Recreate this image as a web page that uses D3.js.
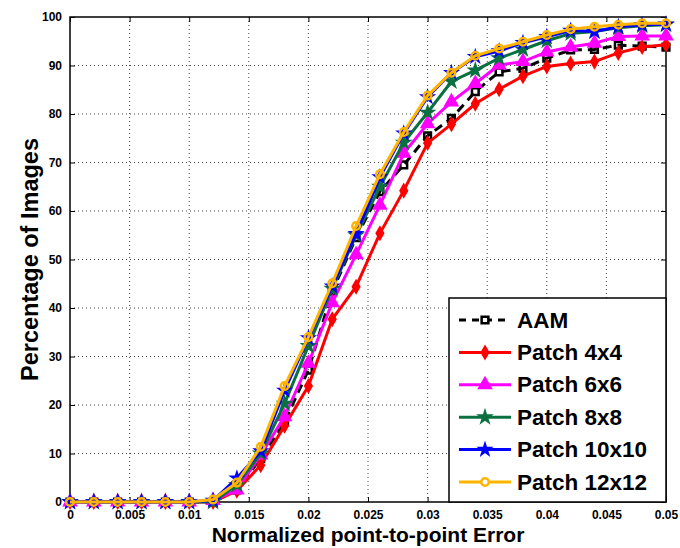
<!DOCTYPE html>
<html lang="en">
<head>
<meta charset="UTF-8">
<title>Normalized point-to-point error</title>
<script src="https://d3js.org/d3.v7.min.js"></script>
<style>
    body { margin: 0; background: #fff; }
    svg { font-family: 'Liberation Sans', Arial, sans-serif; }
    .tick text { font-weight: bold; font-size: 12px; }
    .grid line { stroke: #444; stroke-dasharray: 1,3; }
</style>
</head>
<body>
<script>
// error thresholds (0 .. 0.05, step 0.002)
const errors = [0, 0.002, 0.004, 0.006, 0.008, 0.01, 0.012, 0.014, 0.016, 0.018,
    0.02, 0.022, 0.024, 0.026, 0.028, 0.03, 0.032, 0.034, 0.036, 0.038,
    0.04, 0.042, 0.044, 0.046, 0.048, 0.05];

const aam = [0, 0, 0, 0, 0, 0, 0, 2.5, 9, 16.5, 27.2, 43.4, 54.5, 64, 69.5, 75.5,
    79.1, 84.6, 88.7, 89.4, 91.5, 93.2, 93.3, 94.2, 94, 93.8];
const patch4 = [0, 0, 0, 0, 0, 0, 0, 2.3, 7.6, 15.7, 23.9, 37.7, 44.4, 55.4, 64.2, 74,
    77.9, 82.1, 85.1, 87.8, 89.8, 90.4, 90.8, 92.6, 93.8, 94.3];
const patch6 = [0, 0, 0, 0, 0, 0, 0.3, 2.5, 9.7, 17.6, 28.6, 41.1, 51, 61.2, 71.9, 78,
    82.5, 86.3, 90.1, 90.8, 92.8, 93.8, 94.6, 96, 96.1, 96.1];
const patch8 = [0, 0, 0, 0, 0, 0, 0, 3.5, 10, 20.3, 32.2, 44, 55, 65, 74.1, 80.3,
    86.7, 89, 91.5, 93.3, 95.1, 96.6, 97, 97.8, 98.2, 98.4];
const patch10 = [0, 0, 0, 0, 0, 0, 0.3, 4.9, 10.5, 23, 33.8, 44.5, 55.3, 67, 76, 83.5,
    88.5, 91.8, 93, 94.7, 95.9, 97.2, 97, 98, 98.4, 98.5];
const patch12 = [0, 0, 0, 0, 0, 0, 0.5, 4, 11.4, 23.9, 34, 45.1, 56.9, 67.6, 76.3, 83.8,
    88.5, 92, 93.5, 94.9, 96.3, 97.5, 98, 98.4, 98.7, 98.7];

const xTicks = [0, 0.005, 0.01, 0.015, 0.02, 0.025, 0.03, 0.035, 0.04, 0.045, 0.05];
const yTicks = [0, 10, 20, 30, 40, 50, 60, 70, 80, 90, 100];

const series = [
    { name: "AAM", values: aam, color: "#000", dash: "9,6", symbol: d3.symbolSquare, size: 45, fill: "none" },
    { name: "Patch 4x4", values: patch4, color: "#ff0000", symbol: d3.symbolDiamond, size: 35, fill: "#ff0000" },
    { name: "Patch 6x6", values: patch6, color: "#ff00ff", symbol: d3.symbolTriangle, size: 55, fill: "#ff00ff" },
    { name: "Patch 8x8", values: patch8, color: "#0b7040", symbol: d3.symbolStar, size: 32, fill: "#0b7040" },
    { name: "Patch 10x10", values: patch10, color: "#0000ff", symbol: d3.symbolStar, size: 28, fill: "#0000ff" },
    { name: "Patch 12x12", values: patch12, color: "#ffb400", symbol: d3.symbolCircle, size: 45, fill: "none" }
];

const W = 680, H = 548;
const pLeft = 70, pRight = 666, pTop = 17, pBottom = 502;

const x = d3.scaleLinear().domain([0, 0.05]).range([pLeft, pRight]);
const y = d3.scaleLinear().domain([0, 100]).range([pBottom, pTop]);

const svg = d3.select("body").append("svg")
    .attr("width", W).attr("height", H);

// grid
svg.append("g").attr("class", "grid")
    .selectAll("line").data(xTicks.slice(1, -1)).enter().append("line")
    .attr("x1", d => x(d)).attr("x2", d => x(d))
    .attr("y1", pTop).attr("y2", pBottom);
svg.append("g").attr("class", "grid")
    .selectAll("line").data(yTicks.slice(1, -1)).enter().append("line")
    .attr("x1", pLeft).attr("x2", pRight)
    .attr("y1", d => y(d)).attr("y2", d => y(d));

// axes
const fmt = d => d === 0 ? "0" : String(+d.toFixed(3));
svg.append("g")
    .attr("transform", "translate(0," + pBottom + ")")
    .call(d3.axisBottom(x).tickValues(xTicks).tickFormat(fmt).tickSize(-5).tickPadding(8))
    .call(g => g.select(".domain").remove())
    .call(g => g.selectAll(".tick line").attr("stroke", "#000"))
    .call(g => g.selectAll(".tick text").attr("fill", "#000"));
svg.append("g")
    .attr("transform", "translate(0," + pTop + ")")
    .call(d3.axisTop(x).tickValues(xTicks).tickFormat("").tickSize(-5))
    .call(g => g.select(".domain").remove());
svg.append("g")
    .attr("transform", "translate(" + pLeft + ",0)")
    .call(d3.axisLeft(y).tickValues(yTicks).tickSize(-5).tickPadding(8))
    .call(g => g.select(".domain").remove())
    .call(g => g.selectAll(".tick text").attr("fill", "#000"));
svg.append("g")
    .attr("transform", "translate(" + pRight + ",0)")
    .call(d3.axisRight(y).tickValues(yTicks).tickFormat("").tickSize(-5))
    .call(g => g.select(".domain").remove());

// frame
svg.append("rect")
    .attr("x", pLeft).attr("y", pTop)
    .attr("width", pRight - pLeft).attr("height", pBottom - pTop)
    .attr("fill", "none").attr("stroke", "#000").attr("stroke-width", 1.5);

// lines
const line = d3.line().x((d, i) => x(errors[i])).y(d => y(d));

series.forEach(s => {
    const g = svg.append("g");
    g.append("path")
        .datum(s.values)
        .attr("d", line)
        .attr("fill", "none")
        .attr("stroke", s.color)
        .attr("stroke-width", 3)
        .attr("stroke-dasharray", s.dash || null);
    g.selectAll("path.m").data(s.values).enter().append("path")
        .attr("class", "m")
        .attr("transform", (d, i) => "translate(" + x(errors[i]) + "," + y(d) + ")")
        .attr("d", d3.symbol().type(s.symbol).size(s.size))
        .attr("fill", s.fill)
        .attr("stroke", s.color)
        .attr("stroke-width", 2.5);
});

// legend
const lg = svg.append("g");
lg.append("rect")
    .attr("x", 449).attr("y", 298)
    .attr("width", pRight - 449).attr("height", pBottom - 298)
    .attr("fill", "#fff").attr("stroke", "#000").attr("stroke-width", 1.5);
series.forEach((s, i) => {
    const ly = 320 + i * 32.4;
    lg.append("line")
        .attr("x1", 459).attr("x2", 511).attr("y1", ly).attr("y2", ly)
        .attr("stroke", s.color).attr("stroke-width", 3)
        .attr("stroke-dasharray", s.dash ? "7,6" : null);
    lg.append("path")
        .attr("transform", "translate(485," + ly + ")")
        .attr("d", d3.symbol().type(s.symbol).size(s.size))
        .attr("fill", s.fill === "none" ? "#fff" : s.fill)
        .attr("stroke", s.color).attr("stroke-width", 2.5);
    lg.append("text")
        .attr("x", 517).attr("y", ly + 7.5)
        .attr("font-size", 22.5).attr("font-weight", "bold")
        .text(s.name);
});

// axis titles
svg.append("text")
    .attr("x", (pLeft + pRight) / 2).attr("y", 542)
    .attr("text-anchor", "middle")
    .attr("font-size", 21).attr("font-weight", "bold")
    .text("Normalized point-to-point Error");
svg.append("text")
    .attr("transform", "translate(38," + (pTop + pBottom) / 2 + ") rotate(-90)")
    .attr("text-anchor", "middle")
    .attr("font-size", 23.5).attr("font-weight", "bold")
    .text("Percentage of Images");
</script>
</body>
</html>
